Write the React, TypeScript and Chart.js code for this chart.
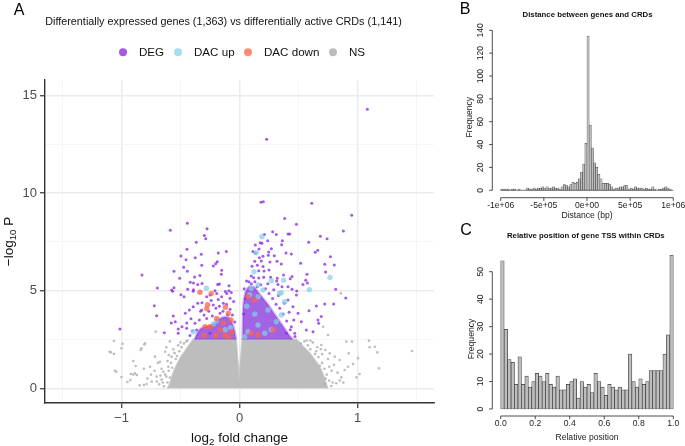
import React, { useEffect, useRef } from 'react';
import { Chart, registerables } from 'chart.js';
Chart.register(...registerables);

const FONT = '"Liberation Sans", Arial, Helvetica, sans-serif';

// ---------- Panel A data (log2 fold change, -log10 P) ----------
const xTicksA = [-1.5, -1, -0.5, 0, 0.5, 1, 1.5];
const yTicksA = [0, 2.5, 5, 7.5, 10, 12.5, 15];
const legendLabels = ['DEG', 'DAC up', 'DAC down', 'NS'];

// dense NS cloud outline (upper envelope, baseline at 0)
const nsCloudX = [-0.61, -0.59, -0.56, -0.53, -0.5, -0.46, -0.42, -0.39, -0.2, -0.03, -0.003, 0.003, 0.025, 0.2, 0.48, 0.52, 0.56, 0.6, 0.63, 0.66, 0.69, 0.71, 0.73, 0.745];
const nsCloudY = [0, 0.2, 0.8, 1.2, 1.55, 1.9, 2.25, 2.5, 2.5, 2.5, 0.35, 0.35, 2.5, 2.5, 2.5, 2.25, 2.0, 1.75, 1.5, 1.25, 0.95, 0.65, 0.3, 0];

// dense DEG clusters (upper envelope, floor at the 2.5 threshold)
const degLeftX = [-0.38, -0.36, -0.33, -0.29, -0.25, -0.21, -0.17, -0.13, -0.09, -0.06, -0.04, -0.03];
const degLeftY = [2.5, 2.8, 3.05, 3.15, 3.2, 3.35, 3.55, 3.65, 3.6, 3.3, 2.9, 2.5];
const degRightX = [0.025, 0.032, 0.05, 0.08, 0.12, 0.16, 0.2, 0.24, 0.28, 0.32, 0.36, 0.4, 0.43, 0.45];
const degRightY = [2.5, 4.2, 4.9, 5.2, 5.2, 4.9, 4.6, 4.3, 3.95, 3.6, 3.25, 2.9, 2.65, 2.5];

const nsPoints: number[][] = [
  [-1.064, 2.42], [-0.99, 2.28], [-1.0, 2.05], [-1.09, 1.84], [-1.064, 1.76], [-1.1, 1.87], [-0.9, 1.4], [-0.88, 1.14],
  [-1.055, 0.9], [-1.044, 0.85], [-0.92, 0.73], [-0.9, 0.7], [-0.87, 0.68], [-1.0, 0.58], [-0.925, 0.42], [-0.95, 0.32],
  [-0.846, 0.15], [-0.81, 0.17], [-0.837, 1.96], [-0.807, 2.25], [-0.81, 1.0], [-0.83, 2.05], [-0.8, 2.3], [-0.71, 2.9],
  [-0.758, 1.1], [-0.716, 1.62], [-0.674, 1.36], [-0.646, 0.85], [-0.63, 1.87], [-0.603, 1.1], [-0.575, 1.62],
  [-0.702, 0.6], [-0.787, 0.22], [-0.744, 0.34], [-0.886, 0.77], [-0.68, 0.2], [-0.66, 0.45], [-0.64, 0.1], [-0.62, 0.6],
  [-0.61, 0.3], [-0.6, 0.9], [-0.58, 1.3], [-0.56, 2.0], [-0.54, 1.5], [-0.52, 2.2], [-0.5, 2.35], [-0.47, 2.3], [-0.45, 2.4],
  [-0.66, 1.0], [-0.69, 1.3], [-0.72, 0.9], [-0.75, 0.7], [-0.78, 0.5], [-0.62, 2.1], [-0.59, 2.4],
  [-0.65, 0.3], [-0.63, 0.7], [-0.61, 1.4], [-0.59, 0.55], [-0.57, 1.05], [-0.55, 1.8], [-0.53, 1.65], [-0.51, 1.9],
  [-0.49, 2.1], [-0.44, 2.45], [-0.6, 1.7], [-0.67, 0.65], [-0.7, 0.35],
  [0.905, 2.39], [0.953, 2.39], [1.097, 2.44], [1.103, 2.1], [1.146, 2.13], [1.168, 1.84], [1.462, 1.91], [1.182, 1.02],
  [1.004, 1.54], [0.962, 1.24], [0.925, 1.79], [0.92, 1.1], [0.99, 0.56], [1.018, 0.73], [0.89, 0.94], [0.863, 0.56],
  [0.82, 0.26], [0.778, 0.12], [0.849, 1.45], [0.807, 1.62], [0.764, 1.79], [0.727, 1.96], [0.693, 2.22], [0.75, 2.73],
  [0.708, 3.15], [0.858, 4.86], [0.52, 2.3], [0.55, 2.4], [0.58, 2.2], [0.6, 2.0], [0.62, 2.35], [0.65, 1.9], [0.67, 1.6],
  [0.7, 1.3], [0.72, 1.0], [0.74, 0.7], [0.76, 0.4], [0.78, 0.9], [0.8, 1.2], [0.66, 2.1], [0.7, 1.75], [0.75, 1.5],
  [0.83, 0.8], [0.85, 0.4], [0.88, 0.3], [0.72, 0.2], [0.57, 2.45], [0.64, 1.75], [0.68, 1.15], [0.73, 0.5], [0.76, 1.1],
  [0.79, 0.3], [0.69, 2.0], [0.6, 2.45],
];

const degPoints: number[][] = [
  [-0.442, 8.45], [-0.586, 8.09], [-0.275, 8.17], [-0.298, 7.83], [-0.286, 7.66], [-0.366, 7.48], [-0.445, 7.12],
  [-0.324, 6.86], [-0.18, 6.93], [-0.112, 7.01], [-0.496, 6.77], [-0.453, 6.58], [-0.375, 6.69], [-0.188, 6.48],
  [-0.202, 6.38], [-0.222, 6.26], [-0.32, 6.3], [-0.473, 6.2], [-0.442, 5.99], [-0.555, 5.99], [-0.151, 6.04],
  [-0.154, 5.84], [-0.335, 5.77], [-0.38, 5.7], [-0.507, 5.63], [-0.826, 5.8], [-0.417, 5.43], [-0.39, 5.39],
  [-0.354, 5.32], [-0.318, 5.36], [-0.185, 5.32], [-0.17, 5.34], [-0.089, 5.25], [-0.696, 5.14], [-0.555, 5.15],
  [-0.566, 4.97], [-0.439, 5.07], [-0.39, 5.04], [-0.208, 5.0], [-0.12, 4.95], [-0.09, 5.0], [-0.07, 4.9],
  [-1.013, 3.04], [-0.722, 4.23], [-0.702, 3.72], [-0.637, 2.85], [-0.561, 3.7], [-0.496, 4.79], [-0.47, 4.69],
  [-0.392, 4.97], [-0.578, 3.34], [-0.544, 3.41], [-0.519, 3.04], [-0.487, 3.15], [-0.447, 3.34], [-0.411, 3.56],
  [-0.459, 3.84], [-0.425, 4.01], [-0.392, 4.18], [-0.354, 4.35], [-0.318, 4.38], [-0.278, 4.69], [-0.25, 4.78],
  [-0.193, 4.86], [-0.151, 4.69], [-0.108, 4.86], [-0.08, 4.61], [-0.137, 4.35], [-0.222, 4.27], [-0.32, 4.01],
  [-0.165, 3.84], [-0.278, 3.58], [-0.377, 3.33], [-0.447, 3.07], [-0.519, 2.82], [-0.363, 2.98], [-0.25, 2.82],
  [-0.575, 5.03], [-0.42, 2.7], [-0.4, 2.95],
  [-0.34, 3.5], [-0.3, 3.75], [-0.26, 3.95], [-0.23, 3.7], [-0.2, 4.1], [-0.17, 4.2], [-0.14, 3.95], [-0.11, 4.3],
  [-0.08, 4.05], [-0.06, 3.75], [-0.05, 4.45], [-0.04, 3.4], [-0.33, 3.95], [-0.24, 4.5], [-0.18, 4.55], [-0.1, 3.75],
  [1.083, 14.29], [0.23, 12.75], [0.182, 9.52], [0.202, 9.55], [0.612, 9.47], [0.951, 8.86], [0.383, 8.7], [0.482, 8.4],
  [0.88, 8.05], [0.281, 8.02], [0.312, 7.88], [0.411, 7.9], [0.425, 7.9], [0.685, 7.78], [0.742, 7.66], [0.21, 7.88],
  [0.363, 7.56], [0.586, 7.48], [0.134, 7.34], [0.176, 7.45], [0.19, 7.43], [0.239, 7.56], [0.357, 7.35], [0.27, 7.15],
  [0.165, 7.13], [0.114, 7.0], [0.134, 6.91], [0.247, 6.98], [0.394, 6.93], [0.439, 6.88], [0.663, 7.07], [0.642, 6.96],
  [0.77, 6.74], [0.199, 6.76], [0.244, 6.81], [0.295, 6.79], [0.168, 6.69], [0.129, 6.5], [0.185, 6.52], [0.258, 6.47],
  [0.318, 6.5], [0.354, 6.36], [0.518, 6.4], [0.722, 6.35], [0.803, 6.31], [0.106, 6.25], [0.151, 6.3], [0.199, 6.23],
  [0.25, 6.06], [0.208, 6.0], [0.163, 6.02], [0.73, 5.95], [0.572, 5.84], [0.374, 5.8], [0.445, 5.73], [0.43, 5.61],
  [0.32, 5.63], [0.264, 5.68], [0.205, 5.68], [0.163, 5.65], [0.12, 5.66], [0.1, 5.75], [0.561, 5.53], [0.575, 5.39],
  [0.315, 5.49], [0.326, 5.32], [0.36, 5.2], [0.411, 5.2], [0.445, 5.07], [0.485, 4.98], [0.538, 5.32], [0.815, 5.07],
  [0.9, 4.62], [0.651, 4.21], [0.722, 4.32], [0.798, 4.32], [0.589, 3.97], [0.693, 3.67], [0.665, 3.5], [0.671, 3.33],
  [0.623, 2.9], [0.566, 2.98], [0.524, 3.41], [0.468, 2.82], [0.439, 3.15], [0.496, 3.84], [0.453, 4.18], [0.411, 4.52],
  [0.482, 4.78], [0.397, 2.82],
  [0.04, 5.1], [0.06, 5.5], [0.08, 5.45], [0.1, 5.35], [0.13, 5.45], [0.15, 5.2], [0.18, 5.3], [0.22, 5.1], [0.25, 4.85],
  [0.28, 4.6], [0.31, 4.3], [0.34, 4.1], [0.37, 3.8], [0.4, 3.45], [0.43, 3.0], [0.46, 3.5], [0.05, 4.6], [0.24, 5.35],
  [0.29, 5.05], [0.33, 4.75], [0.38, 4.35], [0.42, 3.9], [0.47, 2.65], [0.035, 3.8],
];

const dacUpPoints: number[][] = [
  [0.19, 7.76], [0.142, 6.94], [0.123, 5.97], [0.767, 5.68], [0.27, 5.51], [0.374, 5.53], [0.592, 5.05], [-0.281, 5.12],
  [-0.193, 3.46], [-0.392, 2.9], [-0.075, 3.1], [0.086, 4.78], [0.157, 4.69], [0.34, 4.86], [0.383, 4.43], [0.242, 4.01],
  [0.312, 3.41], [0.157, 3.24], [0.072, 2.9], [0.044, 2.64], [0.214, 2.82], [0.354, 3.75], [0.157, 5.29], [0.1, 5.12],
  [0.199, 5.03], [0.354, 4.9], [0.06, 4.2], [0.13, 3.8], [0.27, 3.0], [-0.12, 3.0], [-0.22, 3.3],
];

const dacDownPoints: number[][] = [
  [-0.335, 4.92], [-0.239, 4.85], [-0.27, 4.28], [-0.278, 4.08], [-0.095, 3.84], [-0.12, 4.15], [-0.072, 3.5],
  [-0.193, 3.58], [-0.292, 3.15], [-0.165, 2.98], [-0.123, 2.73], [-0.095, 2.64], [-0.25, 3.15], [-0.066, 2.9],
  [-0.137, 3.33], [0.072, 4.69], [0.129, 4.52], [0.284, 2.98], [0.1, 2.82], [0.157, 2.73], [-0.2, 2.7], [-0.3, 2.7],
];

// ---------- Panel B data: distance histogram ----------
const distBreakMin = -1000000;
const distBinWidth = 25000;
const distCounts = [
  1, 1, 1, 1, 0, 1, 1, 0, 1, 0, 0, 0, 2, 1, 1, 2, 1, 2, 2, 3,
  2, 3, 2, 2, 3, 2, 2, 1, 3, 5, 4, 3, 5, 7, 6, 7, 10, 16, 23, 41,
  135, 57, 37, 24, 20, 14, 10, 6, 6, 6, 5, 3, 1, 2, 2, 3, 3, 4, 4, 1,
  2, 1, 3, 2, 2, 2, 1, 2, 1, 1, 3, 1, 0, 1, 1, 2, 3, 2, 1, 0,
];
const distYTicks = [0, 20, 40, 60, 80, 100, 120, 140];
const distXTicks = [-1000000, -500000, 0, 500000, 1000000];
const distXLabels = ['-1e+06', '-5e+05', '0e+00', '5e+05', '1e+06'];

// ---------- Panel C data: relative TSS position histogram ----------
const relBinWidth = 0.02;
const relCounts = [
  54, 29, 18, 17, 9, 19, 9, 12, 8, 10, 13, 12, 10, 13, 9, 8, 12, 7, 7, 9,
  10, 11, 4, 10, 8, 9, 6, 13, 10, 8, 5, 9, 8, 7, 8, 7, 7, 20, 10, 8,
  11, 9, 10, 14, 14, 14, 14, 20, 27, 56,
];
const relYTicks = [0, 10, 20, 30, 40, 50];
const relXTicks = [0, 0.2, 0.4, 0.6, 0.8, 1.0];
const relXLabels = ['0.0', '0.2', '0.4', '0.6', '0.8', '1.0'];

// ---------- helpers ----------
const C_DEG = 'rgba(138,43,226,0.78)';
const C_UP = 'rgba(135,206,235,0.72)';
const C_DOWN = 'rgba(255,99,71,0.75)';
const C_NS = 'rgba(178,178,178,0.85)';

function pairs(p: number[][]) {
  return p.map(([x, y]) => ({ x, y }));
}
function zipXY(xs: number[], ys: number[]) {
  return xs.map((x, i) => ({ x, y: ys[i] }));
}

type Part = [string, boolean];
function drawParts(ctx: CanvasRenderingContext2D, parts: Part[], cx: number, cy: number, size: number, color: string) {
  const subSize = size * 0.72;
  let total = 0;
  const widths = parts.map(([t, sub]) => {
    ctx.font = `${sub ? subSize : size}px ${FONT}`;
    const w = ctx.measureText(t).width;
    total += w;
    return w;
  });
  let x = cx - total / 2;
  ctx.fillStyle = color;
  ctx.textBaseline = 'middle';
  ctx.textAlign = 'left';
  parts.forEach(([t, sub], i) => {
    ctx.font = `${sub ? subSize : size}px ${FONT}`;
    ctx.fillText(t, x, cy + (sub ? size * 0.3 : 0));
    x += widths[i];
  });
}

const panelAPlugin = {
  id: 'panelA',
  afterDraw(chart: any) {
    const ctx: CanvasRenderingContext2D = chart.ctx;
    const ca = chart.chartArea;
    ctx.save();
    ctx.fillStyle = '#000';
    ctx.textAlign = 'center';
    ctx.textBaseline = 'middle';
    ctx.font = `16px ${FONT}`;
    ctx.fillText('A', 19, 11);

    const title = 'Differentially expressed genes (1,363) vs differentially active CRDs (1,141)';
    ctx.font = `10px ${FONT}`;
    const w10 = ctx.measureText(title).width;
    const ts = (10 * 357) / w10;
    ctx.font = `${ts}px ${FONT}`;
    ctx.fillStyle = '#111';
    ctx.fillText(title, 223.5, 22);

    // legend
    const colors = [C_DEG, C_UP, C_DOWN, C_NS];
    const dotX = [123, 178, 248, 333];
    ctx.font = `11.6px ${FONT}`;
    ctx.textAlign = 'left';
    legendLabels.forEach((lab, i) => {
      ctx.beginPath();
      ctx.fillStyle = colors[i];
      ctx.arc(dotX[i], 52.3, 4, 0, Math.PI * 2);
      ctx.fill();
      ctx.fillStyle = '#111';
      ctx.fillText(lab, dotX[i] + 16, 52.5);
    });

    // axis titles
    drawParts(ctx, [['log', false], ['2', true], [' fold change', false]], (ca.left + ca.right) / 2, 438, 13.5, '#111');
    ctx.save();
    ctx.translate(9, (ca.top + ca.bottom) / 2);
    ctx.rotate(-Math.PI / 2);
    drawParts(ctx, [['\u2212log', false], ['10', true], [' P', false]], 0, 0, 13.5, '#111');
    ctx.restore();
    ctx.restore();
  },
};

function histAxesPlugin(o: {
  title: string; titleX: number; titleY: number;
  letter: string; letterX: number; letterY: number;
  yTicks: number[]; xTicks: number[]; xLabels: string[];
  xTitle: string; xTitleY: number; yTitleX: number; baseline?: [number, number];
  tickFont: number; xLabelBase: number; yLabelX: number;
}) {
  return {
    id: 'histAxes',
    afterDraw(chart: any) {
      const ctx: CanvasRenderingContext2D = chart.ctx;
      const xs = chart.scales.x;
      const ys = chart.scales.y;
      const ca = chart.chartArea;
      const tl = 3.2;
      ctx.save();
      ctx.strokeStyle = '#222';
      ctx.fillStyle = '#222';
      ctx.lineWidth = 0.8;
      if (o.baseline) {
        ctx.beginPath();
        ctx.strokeStyle = '#555';
        ctx.moveTo(xs.getPixelForValue(o.baseline[0]), ys.getPixelForValue(0));
        ctx.lineTo(xs.getPixelForValue(o.baseline[1]), ys.getPixelForValue(0));
        ctx.stroke();
        ctx.strokeStyle = '#222';
      }
      // y axis
      const yl = ca.left;
      ctx.beginPath();
      ctx.moveTo(yl, ys.getPixelForValue(o.yTicks[0]));
      ctx.lineTo(yl, ys.getPixelForValue(o.yTicks[o.yTicks.length - 1]));
      o.yTicks.forEach((t) => {
        const py = ys.getPixelForValue(t);
        ctx.moveTo(yl, py);
        ctx.lineTo(yl - tl, py);
      });
      // x axis
      const xb = ca.bottom;
      ctx.moveTo(xs.getPixelForValue(o.xTicks[0]), xb);
      ctx.lineTo(xs.getPixelForValue(o.xTicks[o.xTicks.length - 1]), xb);
      o.xTicks.forEach((t) => {
        const px = xs.getPixelForValue(t);
        ctx.moveTo(px, xb);
        ctx.lineTo(px, xb + tl);
      });
      ctx.stroke();

      ctx.textAlign = 'center';
      ctx.font = `${o.tickFont}px ${FONT}`;
      ctx.textBaseline = 'alphabetic';
      o.xTicks.forEach((t, i) => {
        ctx.fillText(o.xLabels[i], xs.getPixelForValue(t), o.xLabelBase);
      });
      ctx.textBaseline = 'middle';
      o.yTicks.forEach((t) => {
        ctx.save();
        ctx.translate(o.yLabelX, ys.getPixelForValue(t));
        ctx.rotate(-Math.PI / 2);
        ctx.fillText(String(t), 0, 0);
        ctx.restore();
      });
      ctx.fillText(o.xTitle, (xs.getPixelForValue(o.xTicks[0]) + xs.getPixelForValue(o.xTicks[o.xTicks.length - 1])) / 2, o.xTitleY);
      ctx.save();
      ctx.translate(o.yTitleX, (ca.top + ca.bottom) / 2 + 6);
      ctx.rotate(-Math.PI / 2);
      ctx.fillText('Frequency', 0, 0);
      ctx.restore();

      ctx.font = `bold 7.8px ${FONT}`;
      ctx.fillStyle = '#111';
      ctx.fillText(o.title, o.titleX, o.titleY);
      ctx.font = `16px ${FONT}`;
      ctx.fillStyle = '#000';
      ctx.fillText(o.letter, o.letterX, o.letterY);
      ctx.restore();
    },
  };
}

function useChart(ref: React.RefObject<HTMLCanvasElement>, make: () => any) {
  useEffect(() => {
    if (!ref.current) return;
    const chart = new Chart(ref.current, make());
    return () => chart.destroy();
  }, []);
}

const histX = (min: number, max: number) => ({
  type: 'linear', min, max, display: false, offset: false, grid: { offset: false },
});

const DEG_FILL = 'rgba(122,34,214,0.7)';

export default function App() {
  const refA = useRef<HTMLCanvasElement>(null);
  const refB = useRef<HTMLCanvasElement>(null);
  const refC = useRef<HTMLCanvasElement>(null);

  useEffect(() => {
    document.body.style.margin = '0';
    document.body.style.background = '#fff';
  }, []);

  useChart(refA, () => ({
    type: 'scatter',
    data: {
      datasets: [
        { type: 'line', data: zipXY(nsCloudX, nsCloudY), fill: 'origin', backgroundColor: '#bdbdbd', borderColor: 'rgba(190,190,190,0.8)', borderWidth: 2, pointRadius: 0, tension: 0, order: 9 },
        { data: pairs(nsPoints), backgroundColor: C_NS, borderWidth: 0, pointRadius: 1.3, order: 8 },
        { type: 'line', data: zipXY(degLeftX, degLeftY), fill: { value: 2.5 }, backgroundColor: DEG_FILL, borderColor: 'rgba(138,43,226,0.35)', borderWidth: 2.5, pointRadius: 0, tension: 0.2, order: 7 },
        { type: 'line', data: zipXY(degRightX, degRightY), fill: { value: 2.5 }, backgroundColor: DEG_FILL, borderColor: 'rgba(138,43,226,0.35)', borderWidth: 2.5, pointRadius: 0, tension: 0.2, order: 6 },
        { data: pairs(degPoints), backgroundColor: C_DEG, borderWidth: 0, pointRadius: 1.5, order: 5 },
        { data: pairs(dacUpPoints), backgroundColor: C_UP, borderWidth: 0, pointRadius: 2.7, order: 3 },
        { data: pairs(dacDownPoints), backgroundColor: C_DOWN, borderWidth: 0, pointRadius: 2.7, order: 2 },
      ],
    },
    options: {
      responsive: false,
      animation: false,
      events: [],
      layout: { padding: { left: 0, top: 80, right: 18, bottom: 0 } },
      plugins: { legend: { display: false }, tooltip: { enabled: false } },
      scales: {
        x: {
          type: 'linear', min: -1.648, max: 1.648,
          afterBuildTicks: (s: any) => { s.ticks = xTicksA.map((v) => ({ value: v })); },
          afterFit: (s: any) => { s.height = 43; },
          grid: {
            color: (c: any) => (Number.isInteger(c.tick?.value) ? '#ebebeb' : '#f4f4f4'),
            lineWidth: (c: any) => (Number.isInteger(c.tick?.value) ? 1.5 : 0.8),
            tickColor: (c: any) => (Number.isInteger(c.tick?.value) ? '#333' : 'rgba(0,0,0,0)'),
            tickLength: 5,
            tickWidth: 1.2,
          },
          border: { display: true, color: '#333', width: 1.4 },
          ticks: {
            autoSkip: false, maxRotation: 0, minRotation: 0, padding: 3, color: '#4d4d4d',
            font: { family: FONT, size: 13 },
            callback: (v: number) => (Number.isInteger(v) ? (v < 0 ? '\u2212' + Math.abs(v) : String(v)) : ''),
          },
        },
        y: {
          type: 'linear', min: -0.753, max: 15.786,
          afterBuildTicks: (s: any) => { s.ticks = yTicksA.map((v) => ({ value: v })); },
          afterFit: (s: any) => { s.width = 45; },
          grid: {
            color: (c: any) => (Number.isInteger((c.tick?.value ?? 0) / 5) ? '#ebebeb' : '#f4f4f4'),
            lineWidth: (c: any) => (Number.isInteger((c.tick?.value ?? 0) / 5) ? 1.5 : 0.8),
            tickColor: (c: any) => (Number.isInteger((c.tick?.value ?? 0) / 5) ? '#333' : 'rgba(0,0,0,0)'),
            tickLength: 5,
            tickWidth: 1.2,
          },
          border: { display: true, color: '#333', width: 1.4 },
          ticks: {
            autoSkip: false, padding: 3, color: '#4d4d4d',
            font: { family: FONT, size: 13 },
            callback: (v: number) => (Number.isInteger(v / 5) ? String(v) : ''),
          },
        },
      },
    },
    plugins: [panelAPlugin],
  }));

  useChart(refB, () => ({
    type: 'bar',
    data: {
      datasets: [{
        data: distCounts.map((c, i) => ({ x: distBreakMin + (i + 0.5) * distBinWidth, y: c })),
        backgroundColor: '#bebebe', borderColor: '#3c3c3c', borderWidth: 0.5, borderSkipped: false,
        barPercentage: 1, categoryPercentage: 1,
      }],
    },
    options: {
      responsive: false, animation: false, events: [],
      layout: { padding: { left: 40.3, right: 3.3, top: 24.6, bottom: 22.3 } },
      plugins: { legend: { display: false }, tooltip: { enabled: false } },
      scales: {
        x: histX(-1097300, 1097300),
        y: { type: 'linear', min: -6.5, max: 145, display: false },
      },
    },
    plugins: [histAxesPlugin({
      title: 'Distance between genes and CRDs', titleX: 135.5, titleY: 15,
      letter: 'B', letterX: 13, letterY: 10,
      yTicks: distYTicks, xTicks: distXTicks, xLabels: distXLabels,
      xTitle: 'Distance (bp)', xTitleY: 216, yTitleX: 18, baseline: [-1000000, 1000000],
      tickFont: 8.6, xLabelBase: 208, yLabelX: 29,
    })],
  }));

  useChart(refC, () => ({
    type: 'bar',
    data: {
      datasets: [{
        data: relCounts.map((c, i) => ({ x: (i + 0.5) * relBinWidth, y: c })),
        backgroundColor: '#bebebe', borderColor: '#3c3c3c', borderWidth: 0.7, borderSkipped: false,
        barPercentage: 1, categoryPercentage: 1,
      }],
    },
    options: {
      responsive: false, animation: false, events: [],
      layout: { padding: { left: 40.3, right: 3.3, top: 30, bottom: 30 } },
      plugins: { legend: { display: false }, tooltip: { enabled: false } },
      scales: {
        x: histX(-0.0487, 1.0487),
        y: { type: 'linear', min: -2.55, max: 57.9, display: false },
      },
    },
    plugins: [histAxesPlugin({
      title: 'Relative position of gene TSS within CRDs', titleX: 133.8, titleY: 15.7,
      letter: 'C', letterX: 14, letterY: 11,
      yTicks: relYTicks, xTicks: relXTicks, xLabels: relXLabels,
      xTitle: 'Relative position', xTitleY: 217.3, yTitleX: 19.7,
      tickFont: 8.6, xLabelBase: 205.5, yLabelX: 29,
    })],
  }));

  return (
    <div style={{ position: 'relative', width: 685, height: 446, background: '#fff', overflow: 'hidden' }}>
      <canvas ref={refA} width={452} height={446} style={{ position: 'absolute', left: 0, top: 0, width: 452, height: 446 }} />
      <canvas ref={refB} width={233} height={220} style={{ position: 'absolute', left: 452, top: 0, width: 233, height: 220 }} />
      <canvas ref={refC} width={233} height={226} style={{ position: 'absolute', left: 452, top: 220, width: 233, height: 226 }} />
    </div>
  );
}
